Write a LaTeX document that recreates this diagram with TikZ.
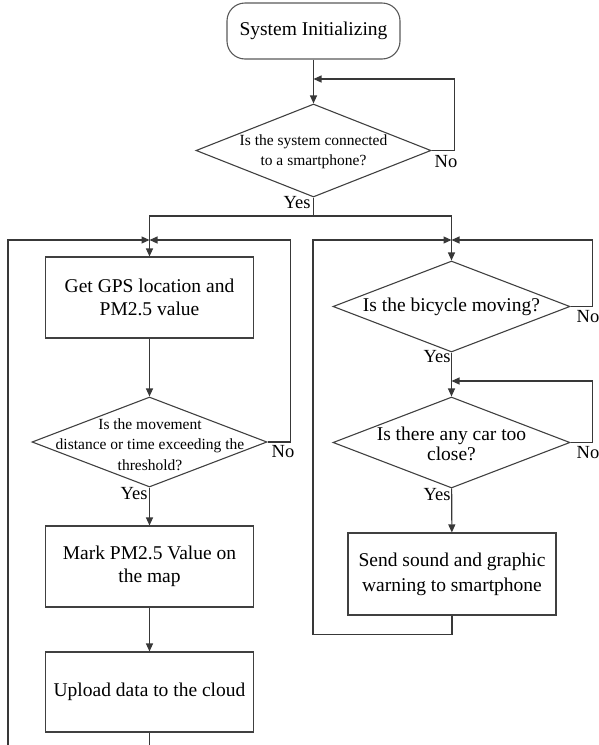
\documentclass[tikz,border=0pt]{standalone}
\usepackage{fontspec}
\setmainfont{Liberation Serif}
\usetikzlibrary{shapes.geometric,arrows.meta}
\begin{document}
\begin{tikzpicture}[x=1pt,y=-1pt,
  conn/.style={draw=black!78, line width=1.1pt},
  flow/.style={conn, -{Triangle[length=8pt,width=7pt]}},
  box/.style={draw=black!75, line width=1.1pt, rectangle, minimum width=208pt, minimum height=81pt,
    align=center, inner sep=0pt, font=\fontsize{19.5}{23.5}\selectfont},
  startbox/.style={draw=black!65, line width=1.1pt, rounded corners=18pt, minimum width=173pt,
    minimum height=56pt, inner sep=0pt, font=\fontsize{19.5}{23.5}\selectfont},
  dec/.style={draw=black!75, line width=1.1pt, diamond, minimum width=235pt, minimum height=91pt, inner sep=0pt},
  dtext/.style={align=center, inner sep=0pt, font=\fontsize{19.5}{20.5}\selectfont},
  dsmall/.style={align=center, inner sep=0pt, font=\fontsize{15.5}{20.5}\selectfont},
  lbl/.style={inner sep=0pt, font=\fontsize{18.5}{20}\selectfont}]
\useasboundingbox (0,0) rectangle (598,745);
\clip (0,0) rectangle (598,745);

% nodes
\node[startbox] (start) at (313.5,31) {System Initializing};
\node[dec, minimum height=93pt] (d1) at (313.5,150.5) {};
\node[dsmall, font=\fontsize{15.5}{20}\selectfont] (d1t) at (313.5,152) {Is the system connected\\to a smartphone?};

\node[box] (gps) at (149.5,297.5) {Get GPS location and\\PM2.5 value};
\node[dec, minimum height=90pt] (d2) at (149.5,442) {};
\node[dsmall] (d2t) at (150,444.5) {Is the movement\\distance or time exceeding the\\threshold?};
\node[box] (mark) at (149.5,566.5) {Mark PM2.5 Value on\\the map};
\node[box, minimum height=80pt] (upload) at (149.5,692) {Upload data to the cloud};

\node[dec, minimum width=237pt] (d3) at (451.5,306.5) {};
\node[dtext] (d3t) at (451.5,306.5) {Is the bicycle moving?};
\node[dec, minimum width=237pt] (d4) at (451.5,442.5) {};
\node[dtext] (d4t) at (451.5,444) {Is there any car too\\close?};
\node[box, minimum height=82pt, font=\fontsize{19.5}{25}\selectfont] (send) at (452,574) {Send sound and graphic\\warning to smartphone};

% junction coordinates
\coordinate (m0) at (313.5,79);
\coordinate (split) at (313.5,216);
\coordinate (mL) at (149.5,240);
\coordinate (mR) at (451.5,240);
\coordinate (mR2) at (451.5,381);
\coordinate (lx) at (8,240);
\coordinate (rx) at (313,240);

% connectors
\draw[flow] (start) -- (d1);
\draw[flow] (d1.east) -- ++(23,0) |- (m0);
\draw[conn] (d1.south) -- (split);
\draw[flow] (split) -| (gps.north);
\draw[flow] (split) -| (d3.north);

\draw[flow] (gps) -- (d2);
\draw[flow] (d2) -- (mark);
\draw[flow] (mark) -- (upload);
\draw[flow] (d2.east) -- ++(23,0) |- (mL);
\draw[flow] (upload.south) -- ++(0,30) -| (lx) -- (mL);

\draw[flow] (d3) -- (d4);
\draw[flow] (d4) -- (send);
\draw[flow] (d3.east) -- ++(22,0) |- (mR);
\draw[flow] (d4.east) -- ++(22,0) |- (mR2);
\draw[flow] (send.south) -- ++(0,19) -| (rx) -- (mR);

% labels
\node[lbl] (no1) at (446,162) {No};
\node[lbl] (yes1) at (297,203) {Yes};
\node[lbl] (no2) at (283,452) {No};
\node[lbl] (yes2) at (134,494) {Yes};
\node[lbl] (no3) at (588,317) {No};
\node[lbl] (no4) at (588,453) {No};
\node[lbl] (yes3) at (437,357) {Yes};
\node[lbl] (yes4) at (437,495) {Yes};
\end{tikzpicture}
\end{document}
